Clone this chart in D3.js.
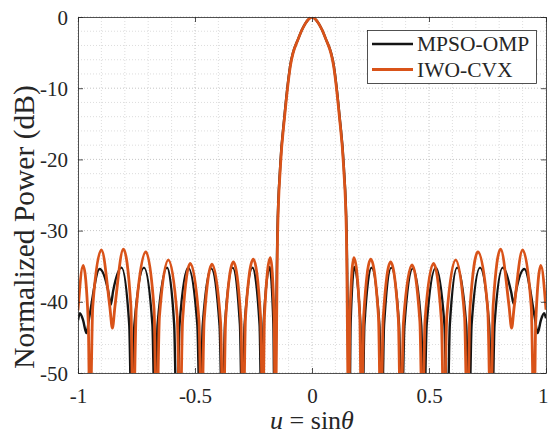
<!DOCTYPE html>
<html lang="en">
<head>
  <meta charset="UTF-8">
  <title>Beam pattern</title>
  <script src="https://d3js.org/d3.v7.min.js"></script>
  <style>
    body { margin: 0; background: #fff; }
    text { font-family: "Liberation Serif", "DejaVu Serif", serif; fill: #262626; }
    .grid line { stroke: #b8b8b8; stroke-width: 0.8; stroke-dasharray: 1,2; }
    .grid.minor line { stroke: #d4d4d4; }
    .tick-label { font-size: 21px; }
  </style>
</head>
<body>
  <svg width="549" height="436"></svg>
  <script>
    const xTicks = [-1, -0.5, 0, 0.5, 1];
    const yTicks = [-50, -40, -30, -20, -10, 0];
    const seriesNames = ["MPSO-OMP", "IWO-CVX"];

    // [u, dB] (nulls sit below the -50 floor and get clipped)
    const mpsoOmp = [
      [-1.000,-42.6],[-0.992,-41.6],[-0.978,-42.6],[-0.964,-44.4],[-0.951,-42.0],[-0.908,-35.4],
      [-0.872,-38.3],[-0.860,-40.4],[-0.850,-38.5],[-0.814,-35.2],[-0.781,-43.2],[-0.771,-58],
      [-0.759,-43.2],[-0.718,-35.2],[-0.682,-43.2],[-0.671,-58],[-0.660,-43.2],[-0.619,-35.2],
      [-0.589,-43.2],[-0.578,-58],[-0.566,-43.2],[-0.529,-35.2],[-0.490,-43.2],[-0.478,-58],
      [-0.467,-43.3],[-0.431,-35.3],[-0.395,-43.3],[-0.383,-58],[-0.372,-43.2],[-0.339,-35.2],
      [-0.308,-43.2],[-0.298,-58],[-0.288,-43.2],[-0.254,-35.2],[-0.224,-43.2],[-0.215,-58],
      [-0.207,-43.1],[-0.181,-35.1],[-0.165,-43.1],[-0.160,-58],[-0.148,-30.4],[-0.136,-21],
      [-0.118,-14],[-0.094,-7],[-0.058,-3],[-0.030,-1],[0,0],
      [0.030,-1],[0.058,-3],[0.094,-7],[0.118,-14],[0.136,-21],[0.148,-30.4],[0.160,-58],
      [0.165,-43.1],[0.181,-35.1],[0.207,-43.1],[0.215,-58],[0.224,-43.2],[0.254,-35.2],
      [0.288,-43.2],[0.298,-58],[0.308,-43.2],[0.339,-35.2],[0.372,-43.2],[0.383,-58],
      [0.395,-43.3],[0.431,-35.3],[0.467,-43.3],[0.478,-58],[0.490,-43.2],[0.529,-35.2],
      [0.566,-43.2],[0.578,-58],[0.589,-43.2],[0.620,-35.2],[0.659,-43.2],[0.671,-58],
      [0.682,-43.2],[0.718,-35.2],[0.757,-43.2],[0.769,-58],[0.780,-43.2],[0.815,-35.2],
      [0.851,-38.6],[0.862,-40.3],[0.873,-38.3],[0.908,-35.4],[0.951,-42.0],[0.964,-44.4],
      [0.978,-42.6],[0.992,-41.6],[1.000,-42.3]
    ];

    const iwoCvx = [
      [-1.000,-41.2],[-0.978,-34.9],[-0.956,-42.9],[-0.949,-58],[-0.937,-40.7],[-0.900,-32.7],
      [-0.864,-40.7],[-0.853,-43.7],[-0.842,-40.6],[-0.806,-32.6],[-0.774,-40.6],[-0.764,-58],
      [-0.751,-41.0],[-0.710,-33.0],[-0.675,-41.0],[-0.664,-58],[-0.652,-42.1],[-0.614,-34.1],
      [-0.576,-42.1],[-0.564,-58],[-0.553,-42.6],[-0.520,-34.6],[-0.483,-42.6],[-0.472,-58],
      [-0.461,-42.7],[-0.427,-34.7],[-0.391,-42.7],[-0.379,-58],[-0.369,-42.4],[-0.336,-34.4],
      [-0.304,-42.4],[-0.294,-58],[-0.284,-42.0],[-0.251,-34.0],[-0.220,-42.0],[-0.210,-58],
      [-0.203,-41.8],[-0.178,-33.8],[-0.162,-41.8],[-0.157,-58],[-0.147,-30.4],[-0.135,-21],
      [-0.117,-14],[-0.093,-7],[-0.058,-3],[-0.030,-1],[0,0],
      [0.030,-1],[0.058,-3],[0.093,-7],[0.117,-14],[0.135,-21],[0.147,-30.4],[0.157,-58],
      [0.162,-41.8],[0.179,-33.8],[0.204,-41.8],[0.212,-58],[0.221,-42.0],[0.251,-34.0],
      [0.284,-42.0],[0.294,-58],[0.304,-42.4],[0.336,-34.4],[0.369,-42.4],[0.379,-58],
      [0.391,-42.8],[0.427,-34.8],[0.461,-42.8],[0.472,-58],[0.483,-42.6],[0.519,-34.6],
      [0.553,-42.6],[0.564,-58],[0.576,-42.1],[0.614,-34.1],[0.652,-42.1],[0.664,-58],
      [0.675,-41.0],[0.709,-33.0],[0.751,-41.0],[0.764,-58],[0.774,-40.6],[0.806,-32.6],
      [0.842,-40.6],[0.853,-43.7],[0.864,-40.7],[0.900,-32.7],[0.937,-40.7],[0.949,-58],
      [0.956,-42.9],[0.978,-34.9],[1.000,-41.1]
    ];

    const colors = ["#141414", "#d95319"];
    const widths = [2.4, 2.8];

    const svg = d3.select("svg"),
          width = +svg.attr("width"),
          height = +svg.attr("height"),
          margin = {top: 17, right: 3, bottom: 63, left: 78};

    const x = d3.scaleLinear()
      .domain([-1, 1])
      .range([margin.left, width - margin.right]);

    const y = d3.scaleLinear()
      .domain([-50, 0])
      .range([height - margin.bottom, margin.top]);

    // minor grid
    const xMinor = d3.range(-10, 11).map(d => d / 10).filter(d => !xTicks.includes(d));
    const yMinor = d3.range(-50, 1, 2).filter(d => !yTicks.includes(d));

    svg.append("g").attr("class", "grid minor")
      .selectAll("line").data(xMinor).enter().append("line")
      .attr("x1", d => x(d)).attr("x2", d => x(d))
      .attr("y1", y(-50)).attr("y2", y(0));
    svg.append("g").attr("class", "grid minor")
      .selectAll("line").data(yMinor).enter().append("line")
      .attr("x1", x(-1)).attr("x2", x(1))
      .attr("y1", d => y(d)).attr("y2", d => y(d));

    // major grid
    svg.append("g").attr("class", "grid")
      .selectAll("line").data(xTicks).enter().append("line")
      .attr("x1", d => x(d)).attr("x2", d => x(d))
      .attr("y1", y(-50)).attr("y2", y(0));
    svg.append("g").attr("class", "grid")
      .selectAll("line").data(yTicks).enter().append("line")
      .attr("x1", x(-1)).attr("x2", x(1))
      .attr("y1", d => y(d)).attr("y2", d => y(d));

    svg.append("defs").append("clipPath").attr("id", "plot")
      .append("rect")
      .attr("x", x(-1)).attr("y", y(0))
      .attr("width", x(1) - x(-1)).attr("height", y(-50) - y(0));

    const line = d3.line()
      .x(d => x(d[0]))
      .y(d => y(d[1]))
      .curve(d3.curveMonotoneX);

    [mpsoOmp, iwoCvx].forEach((s, i) => {
      svg.append("path")
        .datum(s)
        .attr("clip-path", "url(#plot)")
        .attr("fill", "none")
        .attr("stroke", colors[i])
        .attr("stroke-width", widths[i])
        .attr("stroke-linejoin", "round")
        .attr("d", line);
    });

    // axes (box with inward ticks)
    const axisColor = "#262626";
    const plain = d => String(d);
    const gBottom = svg.append("g")
      .attr("transform", `translate(0,${y(-50)})`)
      .call(d3.axisBottom(x).tickValues(xTicks).tickSizeInner(-5).tickSizeOuter(0).tickFormat(plain));
    const gTop = svg.append("g")
      .attr("transform", `translate(0,${y(0)})`)
      .call(d3.axisTop(x).tickValues(xTicks).tickSizeInner(-5).tickSizeOuter(0).tickFormat(""));
    const gLeft = svg.append("g")
      .attr("transform", `translate(${x(-1)},0)`)
      .call(d3.axisLeft(y).tickValues(yTicks).tickSizeInner(-5).tickSizeOuter(0).tickFormat(plain));
    const gRight = svg.append("g")
      .attr("transform", `translate(${x(1)},0)`)
      .call(d3.axisRight(y).tickValues(yTicks).tickSizeInner(-5).tickSizeOuter(0).tickFormat(""));

    [gBottom, gTop, gLeft, gRight].forEach(g => {
      g.attr("font-family", null);
      g.selectAll("path, line").attr("stroke", axisColor).attr("stroke-width", 0.8);
      g.selectAll("text").attr("class", "tick-label").attr("fill", axisColor);
    });
    gBottom.selectAll("text").attr("dy", null).attr("y", 30);
    gBottom.selectAll(".tick:last-of-type text").attr("text-anchor", "end").attr("dx", 2);
    gLeft.selectAll("text").attr("x", -10).attr("dy", "0.34em");

    // axis titles
    const xl = svg.append("text")
      .attr("x", x(0)).attr("y", 429)
      .attr("text-anchor", "middle")
      .style("font-size", "26px");
    xl.append("tspan").style("font-style", "italic").text("u");
    xl.append("tspan").text(" = sin");
    xl.append("tspan").style("font-style", "italic").text("θ");

    svg.append("text")
      .attr("transform", `translate(34,${(y(0) + y(-50)) / 2 + 32}) rotate(-90)`)
      .attr("text-anchor", "middle")
      .style("font-size", "29.5px")
      .text("Normalized Power (dB)");

    // legend
    const lg = svg.append("g");
    lg.append("rect")
      .attr("x", 367.5).attr("y", 30.5)
      .attr("width", 169).attr("height", 53)
      .attr("fill", "#fff").attr("stroke", "#262626").attr("stroke-width", 0.8);
    seriesNames.forEach((name, i) => {
      const ly = 44 + i * 25.5;
      lg.append("line")
        .attr("x1", 372).attr("x2", 413)
        .attr("y1", ly).attr("y2", ly)
        .attr("stroke", colors[i]).attr("stroke-width", widths[i]);
      lg.append("text")
        .attr("x", 417).attr("y", ly + 7)
        .style("font-size", "21.5px")
        .text(name);
    });
  </script>
</body>
</html>
